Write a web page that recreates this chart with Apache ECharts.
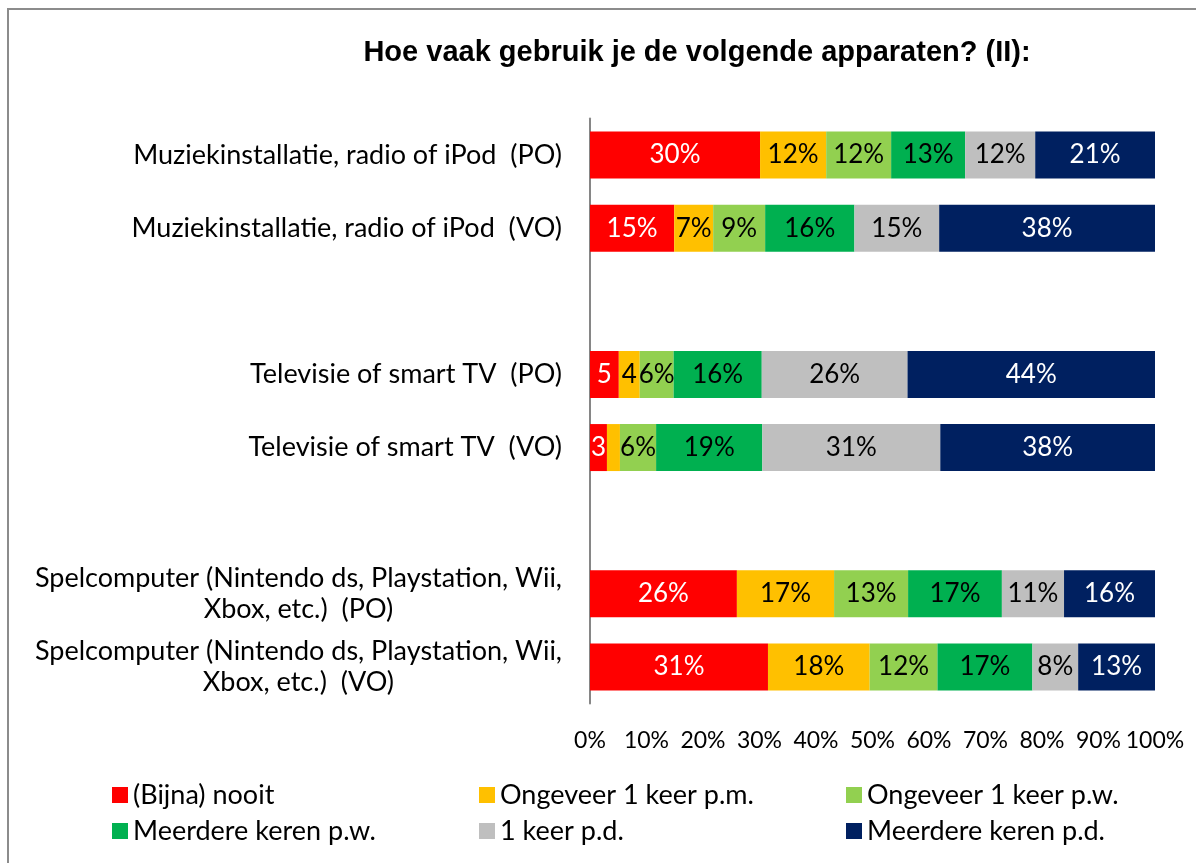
<!DOCTYPE html>
<html>
<head>
<meta charset="utf-8">
<script src="https://cdn.jsdelivr.net/npm/echarts@6/dist/echarts.min.js"></script>
<style>
  html, body { margin: 0; padding: 0; background: #fff; }
  #chart { width: 1196px; height: 863px; }
</style>
</head>
<body>
<div id="chart"></div>
<script>
// categories top to bottom, '' = empty slot between groups
const categories = [
  'Muziekinstallatie, radio of iPod  (PO)',
  'Muziekinstallatie, radio of iPod  (VO)',
  '',
  'Televisie of smart TV  (PO)',
  'Televisie of smart TV  (VO)',
  ' ',
  'Spelcomputer (Nintendo ds, Playstation, Wii,\nXbox, etc.)  (PO)',
  'Spelcomputer (Nintendo ds, Playstation, Wii,\nXbox, etc.)  (VO)'
]

const seriesNames = [
  '(Bijna) nooit',
  'Ongeveer 1 keer p.m.',
  'Ongeveer 1 keer p.w.',
  'Meerdere keren p.w.',
  '1 keer p.d.',
  'Meerdere keren p.d.'
]

const colors = ['#FF0000', '#FFC000', '#92D050', '#00B050', '#BFBFBF', '#002060']
const labelColors = ['#fff', '#000', '#000', '#000', '#000', '#fff']

const nooit = [30.1, 14.9, null, 5.1, 3.0, null, 26.0, 31.5]
const perMaand = [11.7, 6.9, null, 3.7, 2.3, null, 17.2, 18.0]
const perWeek = [11.5, 9.2, null, 6.0, 6.4, null, 13.1, 12.0]
const meerPerWeek = [13.1, 15.8, null, 15.6, 18.8, null, 16.6, 16.8]
const perDag = [12.4, 15.0, null, 25.8, 31.5, null, 11.0, 8.1]
const meerPerDag = [21.2, 38.2, null, 43.8, 38.0, null, 16.1, 13.6]

// data labels as printed on the bars (some are cut short in the original)
const nooitLabels = ['30%', '15%', '', '5', '3', '', '26%', '31%']
const perMaandLabels = ['12%', '7%', '', '4', '', '', '17%', '18%']
const perWeekLabels = ['12%', '9%', '', '6%', '6%', '', '13%', '12%']
const meerPerWeekLabels = ['13%', '16%', '', '16%', '19%', '', '17%', '17%']
const perDagLabels = ['12%', '15%', '', '26%', '31%', '', '11%', '8%']
const meerPerDagLabels = ['21%', '38%', '', '44%', '38%', '', '16%', '13%']

const values = [nooit, perMaand, perWeek, meerPerWeek, perDag, meerPerDag]
const labels = [nooitLabels, perMaandLabels, perWeekLabels, meerPerWeekLabels, perDagLabels, meerPerDagLabels]

const FONT = 'Lato, "Open Sans", sans-serif'

const chart = echarts.init(document.getElementById('chart'))

const option = {
  backgroundColor: '#fff',
  animation: false,
  title: {
    text: 'Hoe vaak gebruik je de volgende apparaten? (II):',
    left: 692,
    top: 33,
    textAlign: 'center',
    textStyle: {
      fontFamily: '"Liberation Sans", Arial, sans-serif',
      fontWeight: 'bold',
      fontSize: 29,
      color: '#000'
    }
  },
  graphic: [
    {
      type: 'rect',
      shape: { x: 8, y: 9, width: 1300, height: 1000 },
      style: { fill: 'none', stroke: '#8c8c8c', lineWidth: 2 },
      silent: true
    }
  ],
  legend: {
    data: seriesNames,
    left: 112,
    top: 780,
    width: 1140,
    padding: 0,
    itemWidth: 16,
    itemHeight: 16,
    itemGap: 6,
    icon: 'rect',
    textStyle: {
      fontFamily: FONT,
      fontSize: 27,
      color: '#000',
      width: 340,
      lineHeight: 30
    }
  },
  grid: {
    left: 590,
    right: 41,
    top: 118.5,
    bottom: 159.5,
    containLabel: false
  },
  xAxis: {
    type: 'value',
    min: 0,
    max: 100,
    interval: 10,
    axisLine: { show: false },
    axisTick: { show: false },
    splitLine: { show: false },
    axisLabel: {
      formatter: '{value}%',
      fontFamily: FONT,
      fontSize: 23,
      color: '#000',
      margin: 26
    }
  },
  yAxis: {
    type: 'category',
    inverse: true,
    data: categories,
    axisLine: { show: true, lineStyle: { color: '#868686', width: 2 } },
    axisTick: { show: false },
    axisLabel: {
      margin: 28,
      fontFamily: FONT,
      fontSize: 27,
      color: '#000',
      lineHeight: 31,
      formatter: (v) => {
        if (v.indexOf('\n') < 0) return v
        return v.split('\n').map((l) => '{c|' + l + '}').join('\n')
      },
      rich: {
        c: {
          align: 'center',
          fontFamily: FONT,
          fontSize: 27,
          color: '#000',
          lineHeight: 31
        }
      }
    }
  },
  series: seriesNames.map((name, i) => ({
    name: name,
    type: 'bar',
    stack: 'total',
    barWidth: 47,
    data: values[i],
    itemStyle: { color: colors[i] },
    label: {
      show: true,
      position: 'inside',
      fontFamily: FONT,
      fontSize: 26,
      color: labelColors[i],
      formatter: (p) => labels[i][p.dataIndex]
    }
  }))
}

chart.setOption(option)
</script>
</body>
</html>
